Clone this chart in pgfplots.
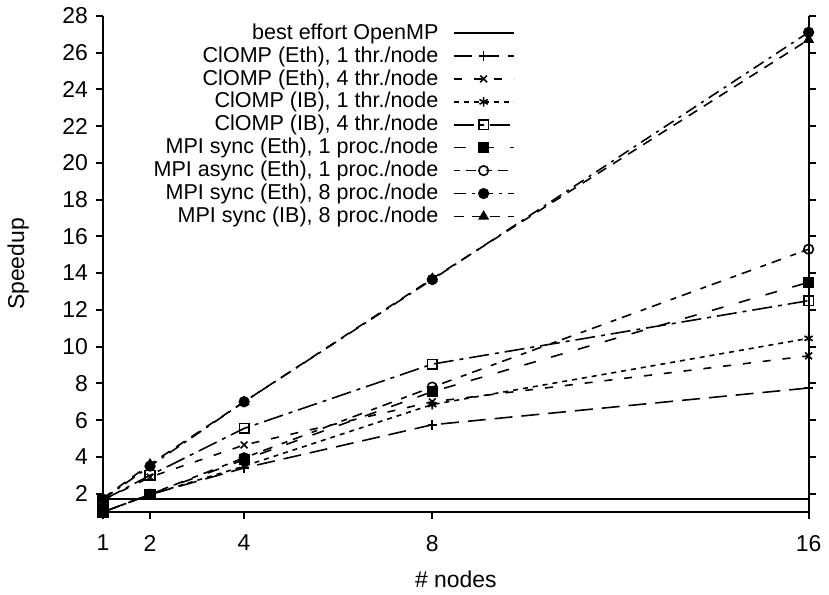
\documentclass[border=0pt]{standalone}
\usepackage{fontspec}
\setmainfont{Liberation Sans}
\usepackage{pgfplots}
\pgfplotsset{compat=1.18}
\usetikzlibrary{plotmarks}
\begin{document}
\fontsize{11.5}{13}\selectfont
\begin{tikzpicture}
\begin{axis}[
 scale only axis, width=354pt, height=249pt,
 xmin=1, xmax=16, ymin=1, ymax=28,
 axis x line*=bottom, axis y line*=box,
 xtick={1,2,4,8,16}, ytick={2,4,...,28},
 tick align=outside, major tick length=3.5pt,
 axis line style={line width=1pt},
 tick style={line width=1pt, black},
 /pgf/number format/assume math mode=true,
 ticklabel style={font=\fontsize{11.5}{13}\selectfont},
 xticklabel style={yshift=-4pt},
 xlabel={\# nodes}, ylabel={Speedup},
 xlabel style={at={(axis description cs:0.5,-0.1345)}, anchor=center},
 ylabel style={at={(axis description cs:-0.12,0.5)}, anchor=center, rotate=0},
 legend cell align=right,
 legend plot pos=right,
 legend style={at={(0.592,0.997)}, anchor=north east, draw=none, fill=none,
   font=\fontsize{10.8}{13}\selectfont,
   nodes={inner sep=0.3pt, text height=8.5pt, text depth=2.4pt},
   column sep=7pt},
 legend image code/.code={\draw[mark repeat=2,mark phase=2] plot coordinates {(0pt,0pt) (15pt,0pt) (30pt,0pt)};},
 every axis plot/.append style={line width=0.8pt, black, mark size=2.4pt},
 clip=false,
]
\addplot[solid] coordinates {(1,1.7) (16,1.7)};
\addlegendentry{best effort OpenMP}
\addplot[dash pattern=on 9pt off 4.5pt, mark=+, mark options={solid}] coordinates {(1,1.0) (2,1.95) (4,3.4) (8,5.75) (16,7.75)};
\addlegendentry{ClOMP (Eth), 1 thr./node}
\addplot[dash pattern=on 4pt off 6pt, mark=x, mark options={solid}] coordinates {(1,1.65) (2,2.9) (4,4.65) (8,7.0) (16,9.5)};
\addlegendentry{ClOMP (Eth), 4 thr./node}
\addplot[dash pattern=on 2.5pt off 2.5pt, mark=asterisk, mark options={solid}] coordinates {(1,1.0) (2,1.95) (4,3.5) (8,6.85) (16,10.45)};
\addlegendentry{ClOMP (IB), 1 thr./node}
\addplot[dash pattern=on 10pt off 3pt on 2pt off 3pt, mark=square, mark options={solid}] coordinates {(1,1.65) (2,3.0) (4,5.55) (8,9.05) (16,12.5)};
\addlegendentry{ClOMP (IB), 4 thr./node}
\addplot[dash pattern=on 6pt off 8pt, mark=square*, mark options={solid}] coordinates {(1,1.0) (2,1.97) (4,3.85) (8,7.55) (16,13.5)};
\addlegendentry{MPI sync (Eth), 1 proc./node}
\addplot[dash pattern=on 3pt off 3pt on 5pt off 5pt, mark=o, mark options={solid}] coordinates {(1,1.0) (2,1.97) (4,3.95) (8,7.8) (16,15.3)};
\addlegendentry{MPI async (Eth), 1 proc./node}
\addplot[dash pattern=on 6pt off 3pt on 1.5pt off 3pt, mark=*, mark options={solid}] coordinates {(1,1.7) (2,3.5) (4,7.0) (8,13.65) (16,27.1)};
\addlegendentry{MPI sync (Eth), 8 proc./node}
\addplot[dash pattern=on 5pt off 4pt, mark=triangle*, mark options={solid}] coordinates {(1,1.75) (2,3.6) (4,7.0) (8,13.7) (16,26.7)};
\addlegendentry{MPI sync (IB), 8 proc./node}
\coordinate (sw) at (rel axis cs:0,0);
\end{axis}
\path (sw) ++(-51.5pt,-39.5pt) rectangle ++(414.5pt,295pt);
\end{tikzpicture}
\end{document}
